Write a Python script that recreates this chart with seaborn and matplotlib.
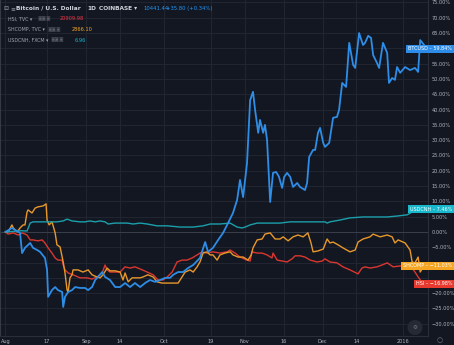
import numpy as np
import pandas as pd
import matplotlib
matplotlib.use("Agg")
import matplotlib.pyplot as plt
import seaborn as sns

# ---- data: day offsets from 2015-08-01 and % change since start ----
btc_day = [0, 2.5, 5.6, 6.4, 7.5, 9.5, 10.6, 12.2, 13.3, 15.2, 16, 16.4, 17.9, 19.1, 20.2,
           21.8, 22.2, 22.9, 24.1, 25.6, 26.8, 28.7, 30.6, 31.8, 33.3, 34.5, 35.6, 37.2,
           38.3, 40.2, 42.2, 44.1, 46, 47.9, 49.8, 51.8, 53.7, 55.6, 57.5, 59.5, 61.4,
           63.3, 64.5, 66.4, 68.3, 70.2, 72.2, 74.8, 76.8, 77.9, 79.8, 81.8, 83.7, 85.6,
           87.5, 89.1, 90.2, 91.4, 92.9, 94.1, 95.2, 96, 97.2, 97.9, 99.1, 99.8, 100.6,
           101.8, 102.9, 104.1, 105.2, 106.4, 107.2, 108.3, 109.5, 110.6, 112.2, 113.3,
           115.2, 116, 116.8, 118.3, 119.1, 120.2, 121, 122.2, 122.9, 124.5, 126, 127.5,
           128.3, 129.5, 131, 132.2, 133.7, 134.5, 136, 137.5, 138.3, 139.5, 140.6, 141.4,
           142.9, 143.7, 145.2, 146.8, 147.5, 148.7, 149.8, 150.6, 151.8, 153.7, 155.6,
           157.5, 158.7, 159.5, 161, 161.5]
btc_pct = [0, 1.3, -0.3, -6.9, -5.2, -3.6, -5.2, -5.9, -6.5, -8.5, -12.4, -21.2, -19, -18, -19,
           -19.6, -24.5, -21.2, -19.6, -19, -18, -18.3, -18.3, -19, -18, -15.7, -14.7, -13.1,
           -14.7, -15.7, -18, -18, -16.7, -18, -16.7, -18, -16.7, -15.7, -16.3, -15.7, -15,
           -15, -14, -13.1, -13.1, -11.8, -10.8, -8.5, -3.3, -6.5, -5.2, -2.6, -0.3, 2.9,
           6.2, 10.5, 17, 11.4, 22.5, 43.1, 45.8, 39.9, 32.4, 36.6, 32.4, 35, 30.1,
           9.8, 19.3, 19.6, 18, 14.4, 18, 19.3, 18, 14.7, 16, 14.7,
           13.7, 16, 24.5, 26.8, 26.8, 32.4, 34, 29.1, 27.8, 29.1, 37.3, 37.6,
           39.9, 48.7, 47.4, 61.8, 54.6, 53.6, 65, 61.1, 61.8, 64.1, 63.4, 57.8,
           55.2, 53.6, 61.8, 58.5, 48.7, 50.3, 49.7, 53.9, 52, 53.9, 52.9,
           53.6, 52.3, 62.7, 61.1, 59.84]

cnh_day = [0, 3, 6, 8.3, 9.5, 10.6, 14.5, 17.2, 19.8, 22.2, 23.7, 25.6, 28.7, 30.6, 32.5,
           34.5, 36.4, 38.3, 39.5, 42.2, 46.8, 49.1, 51.8, 54.5, 58.3, 62.2, 67.2, 72.2,
           76, 78.7, 82.5, 86.4, 89.1, 91, 92.2, 94.1, 96.8, 101.8, 105.6, 109.5, 113.3,
           117.2, 121, 122.9, 123.7, 124.8, 128.7, 132.5, 137.5, 142.9, 146.8, 150.6,
           154.5, 156.4, 158.7, 161.5]
cnh_pct = [0, 0.2, 0.4, 0.3, 2.9, 3.3, 3.3, 3.3, 3.3, 3.6, 4.2, 3.6, 3.3, 3.3, 3.6,
           3.3, 3.6, 3.3, 2.6, 2.9, 2.9, 2.6, 2.9, 2.6, 2.0, 2.0, 1.6, 1.6,
           2.0, 2.6, 2.6, 2.9, 1.6, 1.3, 1.6, 2.3, 2.9, 2.9, 2.9, 3.3, 3.3,
           3.3, 3.3, 3.3, 2.9, 3.3, 3.9, 4.6, 4.9, 4.9, 4.9, 5.2,
           5.6, 6.5, 7.2, 7.46]

hsi_day = [0, 1, 3, 4.8, 6.4, 8.3, 9.5, 10.6, 12.5, 14.1, 15.2, 16.4, 17.9, 19.1, 20.2,
           21.8, 22.2, 22.9, 24.1, 26, 28.7, 31.4, 33.3, 35.2, 37.2, 38.3, 39.1, 40.2,
           42.2, 44.1, 46, 47.9, 49.8, 51.8, 54.5, 56.8, 58.7, 60.6, 62.2, 64.1, 66,
           67.9, 69.8, 71.8, 73.7, 75.6, 77.5, 79.8, 82.5, 85.2, 86.4, 88.3, 90.2, 92.9,
           94.1, 94.8, 96.8, 98.7, 100.6, 102.5, 102.9, 104.5, 106.4, 108.3, 110.2, 111.4,
           113.3, 115.2, 117.2, 119.8, 121.8, 122.9, 124.8, 127.5, 129.8, 132.5, 135.6,
           137.1, 138.3, 140.2, 142.9, 144.8, 146.8, 149.1, 151.8, 154.5, 156.4, 157.5,
           158.7, 159.8, 161.5]
hsi_pct = [0, -0.7, -0.3, -1.0, -0.3, -1.0, -2.6, -2.6, -2.9, -2.6, -3.6, -5.2, -6.9, -8.5, -9.2,
           -9.2, -10.8, -12.4, -13.4, -14.0, -15.0, -15.0, -15.4, -14.7, -13.4, -10.8, -12.4, -13.1,
           -13.1, -13.1, -11.4, -11.8, -11.4, -12.1, -13.1, -14.0, -15.7, -15.7, -14.7, -13.1, -9.8,
           -9.2, -9.2, -8.5, -7.5, -6.5, -6.9, -6.5, -6.9, -6.5, -5.9, -6.9, -8.2, -9.2,
           -9.5, -6.5, -6.9, -6.9, -7.5, -8.5, -6.9, -9.2, -9.5, -9.8, -8.8, -7.8,
           -7.8, -8.2, -9.2, -9.8, -9.5, -8.8, -9.8, -10.1, -11.4, -12.4, -13.7,
           -11.8, -11.4, -11.8, -11.4, -10.8, -10.1, -11.4, -11.1, -11.4, -11.8, -13.1,
           -14.7, -16.0, -16.98]

shc_day = [0, 1, 2.5, 3, 4.5, 5.6, 6.8, 7.5, 8.3, 8.7, 10.2, 11.4, 12.5, 14.5, 15.6, 16,
           16.8, 17.9, 19.1, 19.8, 21, 22.2, 22.9, 23.7, 24.1, 24.8, 25.6, 26, 27.9, 29.8,
           31.8, 33.3, 35.2, 36.4, 37.5, 39.1, 40.2, 42.2, 44.1, 45.2, 46, 47.2, 48.7,
           50.6, 51.8, 52.9, 54.8, 56.8, 58.3, 60.2, 63.3, 66.4, 67.9, 69.1, 71, 72.2,
           73.7, 74.8, 76, 77.5, 78.7, 79.8, 81.4, 82.5, 84.4, 86.4, 87.5, 89.5, 91.4,
           93.3, 94.5, 95.2, 96.8, 98.7, 99.8, 101.8, 103.7, 105.6, 106.8, 108.7, 110.6,
           112.5, 114.5, 116.3, 117.5, 118.3, 120.2, 122.2, 123.7, 124.8, 126, 127.9,
           129.8, 132.5, 134.5, 135.6, 137.5, 140.2, 141.4, 144.1, 146.8, 148.7, 149.8,
           151, 153.7, 155.6, 156.4, 157.5, 158.7, 159.5, 160.3, 161.5]
shc_pct = [0, 0, 2.3, 1.3, 0, 1.3, 2.3, 2.3, 6.5, 7.2, 6.2, 7.8, 8.2, 8.5, 9.2, 3.9,
           2.3, 3.3, -0.3, -4.2, -4.9, -9.8, -13.4, -19.0, -19.6, -15.0, -14.0, -12.4, -12.4, -13.1,
           -12.4, -14.0, -14.7, -15.0, -14.0, -11.8, -12.7, -12.7, -13.1, -15.7, -13.4, -16.3, -15.0,
           -15.0, -15.0, -14.7, -14.0, -14.7, -16.3, -16.7, -16.7, -16.7, -14.7, -13.1, -12.4, -13.1,
           -11.4, -9.8, -6.9, -6.5, -7.5, -7.5, -9.2, -7.5, -6.9, -6.5, -7.5, -8.2, -8.2,
           -9.2, -7.5, -5.2, -2.6, -2.3, -0.7, -0.3, -2.3, -2.3, -1.6, -2.9, -1.6,
           -1.0, -1.6, -0.3, -3.6, -6.5, -6.2, -5.6, -2.3, -3.6, -3.3, -4.2,
           -5.2, -6.5, -5.9, -3.3, -2.3, -1.6, -0.7, -1.6, -1.0, -1.6, -3.6,
           -2.6, -3.6, -5.9, -9.8, -10.1, -8.2, -13.1, -12.0, -11.03]

symbols = ["HSI", "SHCOMP", "USDCNH", "BTCUSD"]
colors = {"BTCUSD": "#2e8de6", "USDCNH": "#1b9fab", "SHCOMP": "#e8982b", "HSI": "#d9372f"}
label_colors = {"BTCUSD": "#2d8ce8", "USDCNH": "#17b8cc", "SHCOMP": "#f5a623", "HSI": "#e8392f"}

tick_dates = ["2015-08-01", "2015-08-17", "2015-09-01", "2015-09-14", "2015-10-01",
              "2015-10-19", "2015-11-01", "2015-11-16", "2015-12-01", "2015-12-14",
              "2016-01-01"]
tick_labels = ["Aug", "17", "Sep", "14", "Oct", "19", "Nov", "16", "Dec", "14", "2016"]
y_ticks = list(range(-30, 80, 5))

start = pd.Timestamp("2015-08-01")
series = {"BTCUSD": (btc_day, btc_pct), "USDCNH": (cnh_day, cnh_pct),
          "SHCOMP": (shc_day, shc_pct), "HSI": (hsi_day, hsi_pct)}
frames = []
for sym in symbols:
    d, p = series[sym]
    frames.append(pd.DataFrame({
        "date": start + pd.to_timedelta(np.array(d), unit="D"),
        "pct": p, "symbol": sym}))
df = pd.concat(frames, ignore_index=True)

# ---- figure ----
W, H = 454, 345
BG = "#131722"
GRID = "#222632"
TXT = "#b2b5be"
fig = plt.figure(figsize=(W / 100, H / 100), dpi=100, facecolor=BG)
ax = fig.add_axes([0, 9 / H, 428 / W, 336 / H])
ax.set_facecolor(BG)

for sym in symbols:
    sub = df[df.symbol == sym]
    sns.lineplot(data=sub, x="date", y="pct", ax=ax, color=colors[sym],
                 linewidth=1.3 if sym == "BTCUSD" else 1.0, estimator=None,
                 legend=False, zorder=3 if sym == "BTCUSD" else 2)

ax.set_xlim(start - pd.Timedelta(days=2.1), start + pd.Timedelta(days=162.5))
ax.set_ylim(-34.0, 75.8)
ax.set_xlabel("")
ax.set_ylabel("")

# price-scale labels hidden where a last-value tag sits on top of them
last = {sym: series[sym][1][-1] for sym in symbols}
def scale_label(v):
    if any(abs(v - t) < 2.2 for t in last.values()):
        return ""
    return f"{v:.2f}%" if v >= 0 else f"\u2212{abs(v):.2f}%"

ax.set_xticks(pd.to_datetime(tick_dates))
ax.set_xticklabels(tick_labels)
ax.set_yticks(y_ticks)
ax.set_yticklabels([scale_label(v) for v in y_ticks])
ax.yaxis.tick_right()
ax.tick_params(axis="both", length=0, colors=TXT, labelsize=3.6)
ax.tick_params(axis="y", pad=2.5)
ax.tick_params(axis="x", pad=2.2)
ax.grid(True, color=GRID, linewidth=0.7)
ax.set_axisbelow(True)
ax.axhline(0, color="#3a3e4a", linewidth=0.7, zorder=1)

ax.spines["top"].set_visible(False)
for s in ["right", "bottom"]:
    ax.spines[s].set_color("#2a2e39")
    ax.spines[s].set_linewidth(0.8)
ax.spines["left"].set_color("#363a45")
ax.spines["left"].set_linewidth(1.5)

# ---- last-value tags on the price scale ----
for sym in symbols:
    v = last[sym]
    vtxt = f"{v:.2f}%" if v >= 0 else f"\u2212{abs(v):.2f}%"
    ax.annotate(f"{sym} \u2013 {vtxt}", xy=(452 / 428, v),
                xycoords=("axes fraction", "data"), ha="right", va="center",
                fontsize=3.5, color="white", annotation_clip=False, zorder=5,
                bbox=dict(boxstyle="square,pad=0.35", fc=label_colors[sym], ec="none"))

# ---- header ----
def ftext(x, y, s, color, size=4.2, weight="normal"):
    fig.text(x / W, 1 - y / H, s, color=color, fontsize=size, fontweight=weight,
             ha="left", va="center")

ftext(3, 8.5, "\u229f", "#9598a1", 4.2)
ftext(10, 8.5, "\u2261", "#9598a1", 4.2)
ftext(16, 8.5, "Bitcoin / U.S. Dollar", "#d1d4dc", 4.2, "bold")
ftext(87, 8.5, "1D", "#d1d4dc", 4.2, "bold")
ftext(99, 8.5, "COINBASE \u25be", "#d1d4dc", 4.2, "bold")
ftext(143, 8.5, "10441.44", "#2196f3", 3.8)
ftext(166, 8.5, "+35.80 (+0.34%)", "#2196f3", 3.8)

rows = [("HSI, TVC \u25be", 19, 38, "20909.98", 60, "#f23645"),
        ("SHCOMP, TVC \u25be", 29.5, 48, "2866.10", 72, "#f5a623"),
        ("USDCNH, FXCM \u25be", 40, 51, "6.96", 75, "#17b8cc")]
for name, y, ix, val, vx, c in rows:
    ftext(8, y, name, "#a3a6af", 3.4)
    ftext(ix, y, "\u25a3\u25a3\u25a3", "#5d606b", 3.4)
    ftext(vx, y, val, c, 3.6)

# ---- scale controls ----
fig.text(415 / W, 1 - 327.5 / H, "\u2699", color="#787b86", fontsize=4,
         ha="center", va="center",
         bbox=dict(boxstyle="circle,pad=0.9", fc="#262a35", ec="none"))
fig.text(440 / W, 1 - 340 / H, "\u25cb", color="#787b86", fontsize=5,
         ha="center", va="center")

fig.savefig("out.png", dpi=100, facecolor=BG)
